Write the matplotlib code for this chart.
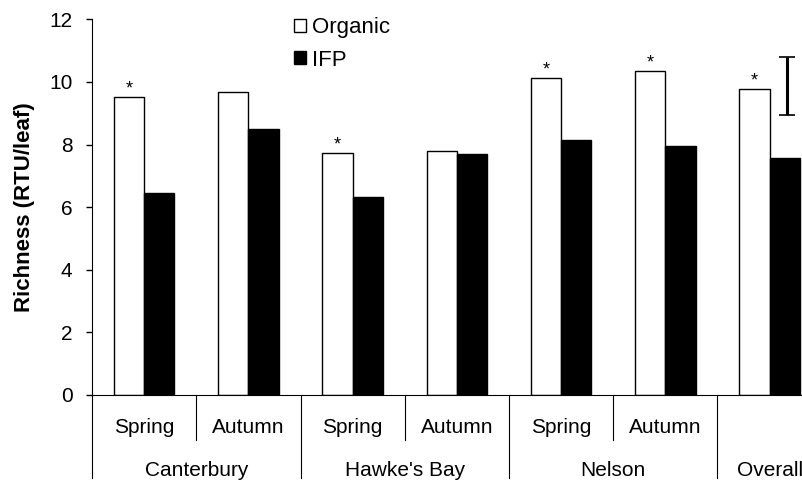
import matplotlib.pyplot as plt
import numpy as np

plt.rcParams['font.family'] = ['Liberation Sans', 'DejaVu Sans']

# data
seasons = ["Spring", "Autumn", "Spring", "Autumn", "Spring", "Autumn", ""]
regions = ["Canterbury", "Hawke's Bay", "Nelson", "Overall"]
region_span = [2, 2, 2, 1]
organic = [9.52, 9.68, 7.72, 7.79, 10.13, 10.35, 9.79]
ifp = [6.45, 8.51, 6.32, 7.71, 8.14, 7.94, 7.56]
significant = [True, False, True, False, True, True, True]
lsd_low, lsd_high = 8.94, 10.79

fig = plt.figure(figsize=(8.03, 4.84), dpi=100)
ax = fig.add_axes([0.1146, 0.184, 0.897, 0.776])

x = np.arange(len(organic))
w = 0.29
ax.bar(x - w / 2, organic, w, color='white', edgecolor='black', linewidth=1, label='Organic')
ax.bar(x + w / 2, ifp, w, color='black', edgecolor='black', linewidth=1, label='IFP')

# asterisks for significant differences
for xi, val, sig in zip(x, organic, significant):
    if sig:
        ax.text(xi - w / 2, val - 0.02, '*', ha='center', va='bottom', fontsize=13)

# scale bar (error bar) near the right
ax.errorbar([6.17], [(lsd_low + lsd_high) / 2], yerr=[(lsd_high - lsd_low) / 2],
            fmt='none', ecolor='black', elinewidth=2.2, capsize=5.8, capthick=1.2)

ax.set_xlim(-0.5, 6.41)
ax.set_ylim(0, 12)
ax.set_yticks(range(0, 13, 2))
ax.tick_params(axis='y', labelsize=15, length=4, width=1, pad=10)
ax.set_xticks([])
ax.spines['top'].set_visible(False)
ax.spines['right'].set_visible(False)
ax.set_ylabel('Richness (RTU/leaf)', fontsize=16, fontweight='bold', labelpad=10)

# two-level category labels
tr = ax.get_xaxis_transform()
for xi, s in zip(x, seasons):
    if s:
        ax.text(xi, -0.088, s, transform=tr, ha='center', va='center', fontsize=15)
start = -0.5
for name, span in zip(regions, region_span):
    ax.plot([start, start], [0, -0.22], transform=tr, color='black', lw=0.8, clip_on=False)
    if span == 2:
        ax.plot([start + 1, start + 1], [0, -0.12], transform=tr, color='black', lw=0.8, clip_on=False)
    ax.text(start + span / 2, -0.2, name, transform=tr, ha='center', va='center', fontsize=15)
    start += span
ax.plot([start, start], [0, -0.22], transform=tr, color='black', lw=0.8, clip_on=False)

fig.legend(*ax.get_legend_handles_labels(), loc='upper left', bbox_to_anchor=(0.366, 0.964),
           frameon=False, fontsize=16, borderpad=0, borderaxespad=0,
           handlelength=0.55, handleheight=0.55, handletextpad=0.25, labelspacing=0.5)

fig.savefig('out.png', dpi=100)
